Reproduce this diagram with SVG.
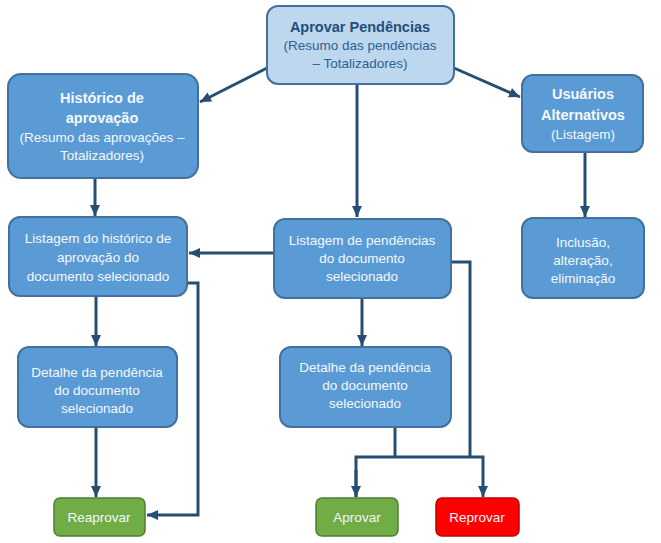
<svg xmlns="http://www.w3.org/2000/svg" width="661" height="543" viewBox="0 0 661 543">
<defs>
<marker id="arr" markerUnits="userSpaceOnUse" markerWidth="12" markerHeight="12" viewBox="0 0 12 12" refX="11" refY="6" orient="auto">
<path d="M0,1 L11,6 L0,11 Z" fill="#254e72"/>
</marker>
<style>
.box{fill:#5b9bd5;stroke:#41719c;stroke-width:2}
.top{fill:#bdd7ee;stroke:#41719c;stroke-width:2}
.grn{fill:#70ad47;stroke:#507e32;stroke-width:1.5}
.red{fill:#ff0000;stroke:#c00000;stroke-width:1.5}
text{font-family:"Liberation Sans","Open Sans",sans-serif;font-size:13.5px;text-anchor:middle;fill:#f4f8fc}
.b{font-weight:bold;font-size:14.5px}
.tt{fill:#1f4e79}
.ts{fill:#2f5f94}
.c{fill:none;stroke:#254e72;stroke-width:3}
</style>
</defs>
<rect width="661" height="543" fill="#ffffff"/>
<g id="connectors">
<line class="c" x1="267" y1="68" x2="200" y2="102" marker-end="url(#arr)"/>
<line class="c" x1="454" y1="68" x2="520" y2="97" marker-end="url(#arr)"/>
<line class="c" x1="357" y1="84" x2="357" y2="217" marker-end="url(#arr)"/>
<line class="c" x1="95" y1="178" x2="95" y2="216" marker-end="url(#arr)"/>
<line class="c" x1="585" y1="152" x2="585" y2="217" marker-end="url(#arr)"/>
<line class="c" x1="273" y1="253" x2="189" y2="253" marker-end="url(#arr)"/>
<polyline class="c" points="452,262 470,262 470,457"/>
<polyline class="c" points="187,283 198,283 198,515 147,515" marker-end="url(#arr)"/>
<line class="c" x1="96" y1="297" x2="96" y2="346" marker-end="url(#arr)"/>
<line class="c" x1="96" y1="427" x2="96" y2="497" marker-end="url(#arr)"/>
<line class="c" x1="362" y1="299" x2="362" y2="346" marker-end="url(#arr)"/>
<line class="c" x1="395" y1="427" x2="395" y2="457"/>
<polyline class="c" points="356,497 356,457 483,457 483,497" marker-end="url(#arr)"/>
<line class="c" x1="356" y1="470" x2="356" y2="497" marker-end="url(#arr)"/>
</g>
<g id="aprovar-pendencias">
<rect class="top" x="267" y="6" width="187" height="78" rx="11"/>
<text class="b tt" x="360" y="32">Aprovar  Pendências</text>
<text class="ts" x="360" y="50">(Resumo das pendências</text>
<text class="ts" x="360" y="68">– Totalizadores)</text>
</g>
<g id="historico">
<rect class="box" x="8" y="74" width="190" height="104" rx="13"/>
<text class="b" x="102" y="103">Histórico de</text>
<text class="b" x="102" y="123">aprovação</text>
<text x="102" y="142">(Resumo das aprovações –</text>
<text x="102" y="160">Totalizadores)</text>
</g>
<g id="usuarios">
<rect class="box" x="522" y="75" width="121" height="77" rx="11"/>
<text class="b" x="583" y="99">Usuários</text>
<text class="b" x="583" y="120">Alternativos</text>
<text x="583" y="139">(Listagem)</text>
</g>
<g id="listagem-historico">
<rect class="box" x="9" y="217" width="178" height="79" rx="11"/>
<text x="98" y="243">Listagem do histórico de</text>
<text x="98" y="262">aprovação do</text>
<text x="98" y="281">documento selecionado</text>
</g>
<g id="listagem-pendencias">
<rect class="box" x="274" y="219" width="177" height="79" rx="11"/>
<text x="362" y="245">Listagem de pendências</text>
<text x="362" y="263">do documento</text>
<text x="362" y="281">selecionado</text>
</g>
<g id="inclusao">
<rect class="box" x="522" y="218" width="122" height="80" rx="11"/>
<text x="583" y="247">Inclusão,</text>
<text x="583" y="265">alteração,</text>
<text x="583" y="283">eliminação</text>
</g>
<g id="detalhe-historico">
<rect class="box" x="18" y="347" width="159" height="80" rx="11"/>
<text x="97" y="377">Detalhe da pendência</text>
<text x="97" y="395">do documento</text>
<text x="97" y="413">selecionado</text>
</g>
<g id="detalhe-pendencias">
<rect class="box" x="280" y="347" width="171" height="80" rx="11"/>
<text x="365" y="372">Detalhe da pendência</text>
<text x="365" y="390">do documento</text>
<text x="365" y="408">selecionado</text>
</g>
<g id="reaprovar">
<rect class="grn" x="54" y="498" width="91" height="38" rx="6"/>
<text x="99" y="522">Reaprovar</text>
</g>
<g id="aprovar">
<rect class="grn" x="316" y="498" width="82" height="38" rx="6"/>
<text x="357" y="522">Aprovar</text>
</g>
<g id="reprovar">
<rect class="red" x="436" y="498" width="83" height="38" rx="6"/>
<text x="477" y="522">Reprovar</text>
</g>
</svg>
